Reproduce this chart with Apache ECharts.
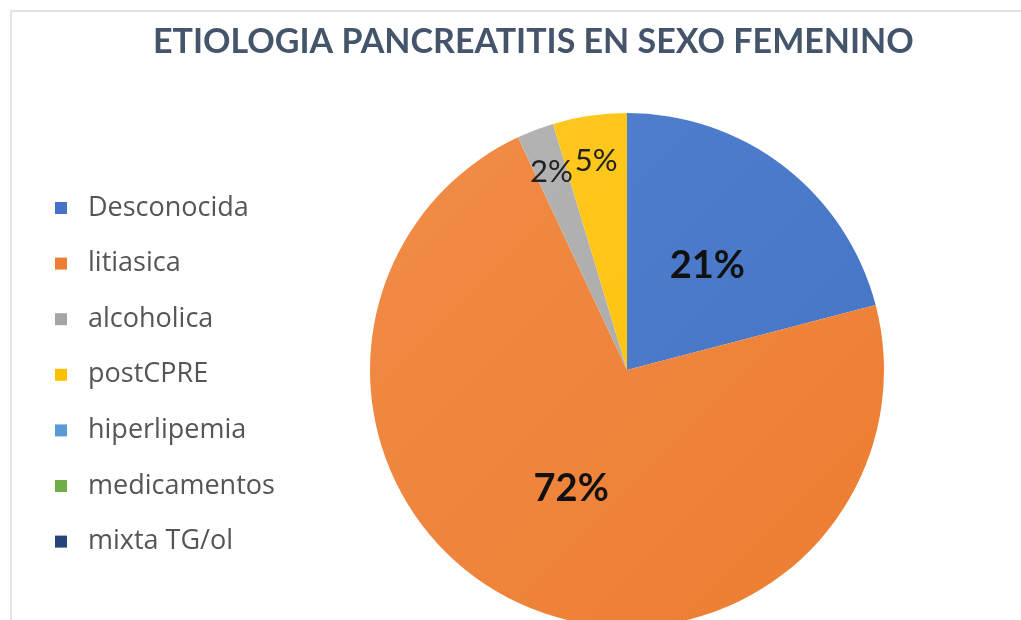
<!DOCTYPE html>
<html lang="es">
<head>
  <meta charset="UTF-8" />
  <title>Etiologia pancreatitis en sexo femenino</title>
  <script src="https://cdn.jsdelivr.net/npm/echarts@6.0.0/dist/echarts.min.js"></script>
  <style>
    body { margin: 0; background: #fff; }
    #frame { position: absolute; left: 10px; top: 10px; width: 1011px; height: 610px;
             border-left: 2px solid #e4e4e4; border-top: 2px solid #e4e4e4; }
    #chart { position: absolute; left: 0; top: 0; width: 1021px; height: 620px; }
  </style>
</head>
<body>
  <div id="frame"></div>
  <div id="chart"></div>

  <script>
    // datos (casos por etiologia)
    const categories = ['Desconocida', 'litiasica', 'alcoholica', 'postCPRE', 'hiperlipemia', 'medicamentos', 'mixta TG/ol'];
    const counts = [9, 31, 1, 2, 0, 0, 0];
    const colors = ['#4472C4', '#ED7D31', '#A5A5A5', '#FFC000', '#5B9BD5', '#70AD47', '#264478'];
    const lightColors = ['#5281d0', '#f18c48', '#b5b5b5', '#ffc926', '#6ea8dc', '#80b85a', '#34548c'];

    const cx = 627, cy = 370, r = 257;

    function shade(i) {
      return {
        type: 'linear', global: true,
        x: cx - r, y: cy - r, x2: cx + r, y2: cy + r,
        colorStops: [{ offset: 0, color: lightColors[i] }, { offset: 1, color: colors[i] }]
      };
    }

    const total = counts.reduce((a, b) => a + b, 0);
    const pieData = categories.map((name, i) => ({ name, value: counts[i], itemStyle: { color: shade(i) } }));
    const isBig = v => v / total >= 0.1;

    const chart = echarts.init(document.getElementById('chart'));
    chart.setOption({
      animation: false,
      color: colors,
      title: {
        text: 'ETIOLOGIA PANCREATITIS EN SEXO FEMENINO',
        left: 153, top: 25, padding: 0,
        textStyle: { fontFamily: 'Lato', fontWeight: 'bold', fontSize: 34, color: '#44546A' }
      },
      legend: {
        orient: 'vertical', left: 55, top: 193, padding: 0,
        itemWidth: 12, itemHeight: 12, itemGap: 25.6,
        icon: 'rect',
        data: categories.map((name, i) => ({ name, itemStyle: { color: colors[i] } })),
        textStyle: { fontFamily: 'Open Sans', fontSize: 27, color: '#555', lineHeight: 30, padding: [0, 0, 0, 16] }
      },
      series: [
        {
          type: 'pie', center: [cx, cy], radius: r,
          startAngle: 90, clockwise: true, avoidLabelOverlap: false,
          itemStyle: { borderWidth: 0 },
          label: {
            position: 'inside',
            fontFamily: 'Lato', fontWeight: 'bold', fontSize: 38, color: '#111',
            formatter: p => isBig(p.value) ? Math.round(p.percent) + '%' : ''
          },
          labelLine: { show: false },
          data: pieData
        },
        {
          // capa transparente solo para etiquetas de porciones pequeñas
          type: 'pie', center: [cx, cy], radius: [160, r],
          startAngle: 90, clockwise: true, silent: true, avoidLabelOverlap: false,
          itemStyle: { color: 'rgba(0,0,0,0)', borderWidth: 0 },
          label: {
            position: 'inside',
            fontFamily: 'Lato', fontSize: 31, color: '#222',
            formatter: p => (p.value > 0 && !isBig(p.value)) ? Math.round(p.percent) + '%' : ''
          },
          labelLine: { show: false },
          data: categories.map((name, i) => ({ name, value: counts[i] }))
        }
      ]
    });
  </script>
</body>
</html>
